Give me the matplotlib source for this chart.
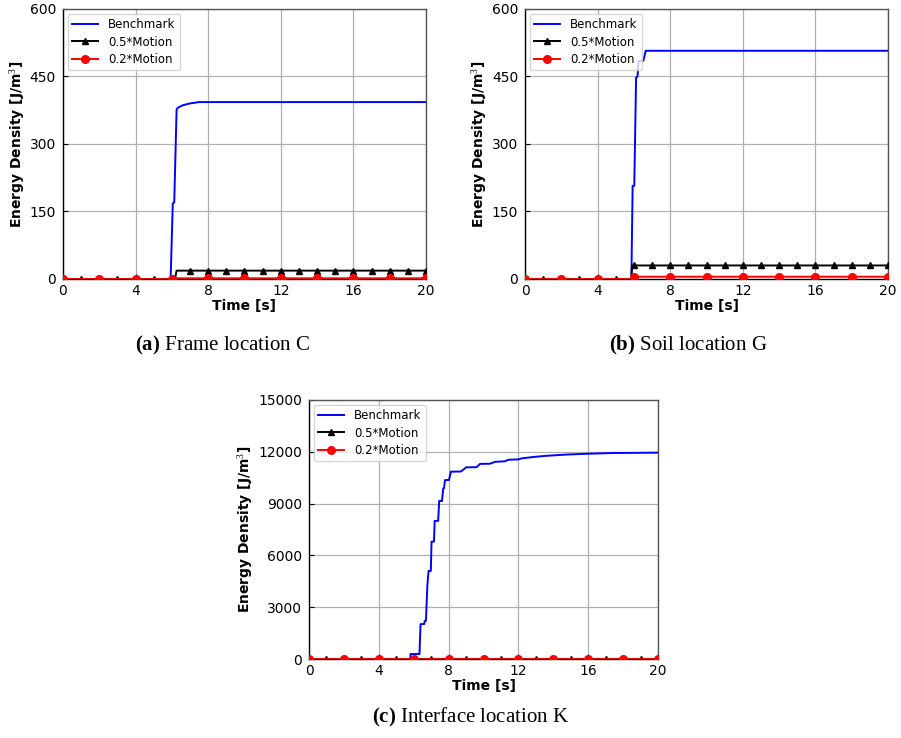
import numpy as np
import matplotlib
matplotlib.use("Agg")
import matplotlib.pyplot as plt

plt.rcParams['mathtext.fontset'] = 'custom'
plt.rcParams['mathtext.rm'] = 'Liberation Serif'
plt.rcParams['mathtext.bf'] = 'Liberation Serif:bold'

# ---- (a) Frame location C ----
t_a_bench = [0, 5.93, 6.05, 6.13, 6.26, 6.35, 6.6, 7.0, 7.5, 20]
e_a_bench = [0, 0, 168, 170, 377, 381, 386, 390, 393, 393]
t_a_half = [0, 1, 2, 3, 4, 5, 6, 6.17, 6.26, 7, 8, 9, 10, 11, 12, 13, 14, 15, 16, 17, 18, 19, 20]
e_a_half = [0, 0, 0, 0, 0, 0, 0, 0, 18.5, 18.5, 18.5, 18.5, 18.5, 18.5, 18.5, 18.5,
            18.5, 18.5, 18.5, 18.5, 18.5, 18.5, 18.5]
t_a_fifth = [0, 2, 4, 6, 6.2, 8, 10, 12, 14, 16, 18, 20]
e_a_fifth = [0, 0, 0, 0, 1.5, 1.5, 1.5, 1.5, 1.5, 1.5, 1.5, 1.5]

# ---- (b) Soil location G ----
t_b_bench = [0, 5.86, 5.93, 6.02, 6.12, 6.2, 6.25, 6.52, 6.65, 20]
e_b_bench = [0, 0, 207, 207, 447, 450, 484, 485, 507, 507]
t_b_half = [0, 1, 2, 3, 4, 5, 5.86, 5.9, 6, 7, 8, 9, 10, 11, 12, 13, 14, 15, 16, 17, 18, 19, 20]
e_b_half = [0, 0, 0, 0, 0, 0, 0, 30, 30, 30, 30, 30, 30, 30, 30, 30, 30, 30, 30, 30, 30, 30, 30]
t_b_fifth = [0, 2, 4, 5.86, 5.9, 6, 8, 10, 12, 14, 16, 18, 20]
e_b_fifth = [0, 0, 0, 0, 5, 5, 5, 5, 5, 5, 5, 5, 5]

# ---- (c) Interface location K ----
t_c_bench = [0, 5.80, 5.82, 6.33, 6.39, 6.60, 6.63, 6.70, 6.78, 6.85, 6.98, 7.02, 7.16,
             7.20, 7.40, 7.46, 7.62, 7.69, 7.74, 7.79, 8.02, 8.13, 8.71, 9.0, 9.6, 9.8,
             10.37, 10.66, 11.23, 11.42, 12.0, 12.19, 12.86, 13.62, 14.77, 16.0, 17.44, 20]
e_c_bench = [0, 0, 290, 290, 2020, 2030, 2200, 2215, 4240, 5100, 5100, 6800, 6800,
             8000, 8000, 9150, 9150, 9880, 9900, 10360, 10370, 10850, 10860, 11100, 11110,
             11300, 11310, 11420, 11450, 11540, 11560, 11620, 11700, 11770, 11840, 11890,
             11930, 11950]
t_c_half = list(range(0, 21))
e_c_half = [0] * 21
t_c_fifth = list(range(0, 21, 2))
e_c_fifth = [0] * 11

panels = [
    dict(rect=[0.0699, 0.622, 0.4029, 0.3659], ymax=600, ystep=150,
         bench=(t_a_bench, e_a_bench), half=(t_a_half, e_a_half), fifth=(t_a_fifth, e_a_fifth),
         cap_xy=(0.2475, 0.532), caption=r"$\mathbf{(a)}$ Frame location C"),
    dict(rect=[0.5827, 0.622, 0.4029, 0.3659], ymax=600, ystep=150,
         bench=(t_b_bench, e_b_bench), half=(t_b_half, e_b_half), fifth=(t_b_fifth, e_b_fifth),
         cap_xy=(0.7636, 0.532), caption=r"$\mathbf{(b)}$ Soil location G"),
    dict(rect=[0.343, 0.107, 0.3873, 0.351], ymax=15000, ystep=3000,
         bench=(t_c_bench, e_c_bench), half=(t_c_half, e_c_half), fifth=(t_c_fifth, e_c_fifth),
         cap_xy=(0.5228, 0.028), caption=r"$\mathbf{(c)}$ Interface location K"),
]


def marker_idx(ts, step):
    return [i for i, t in enumerate(ts) if float(t).is_integer() and int(t) % step == 0]


fig = plt.figure(figsize=(9.01, 7.38), dpi=100)

for p in panels:
    ax = fig.add_axes(p['rect'])
    tb, eb = p['bench']
    th, eh = p['half']
    tf, ef = p['fifth']
    ax.plot(tb, eb, color='blue', lw=1.4, label='Benchmark', zorder=3)
    ax.plot(th, eh, color='black', lw=1.4, marker='^', markersize=5,
            markevery=marker_idx(th, 1), label='0.5*Motion', zorder=3)
    ax.plot(tf, ef, color='red', lw=1.4, marker='o', markersize=5.5,
            markevery=marker_idx(tf, 2), label='0.2*Motion', zorder=3)

    ax.set_xlim(0, 20)
    ax.set_ylim(0, p['ymax'])
    ax.set_xticks(np.arange(0, 21, 4))
    ax.set_yticks(np.arange(0, p['ymax'] + 1, p['ystep']))
    ax.tick_params(direction='in', labelsize=10)
    ax.tick_params(axis='y', pad=5)
    ax.tick_params(axis='x', pad=3.5)
    ax.grid(True, color='#b0b0b0', lw=0.9)
    ax.set_axisbelow(True)
    for s in ax.spines.values():
        s.set_linewidth(1.0)
    ax.spines['top'].set_color('#555555')
    ax.spines['right'].set_color('#555555')

    ax.set_xlabel('Time [s]', fontsize=10, fontweight='bold', labelpad=1)
    ax.set_ylabel(r'Energy Density [J/m$^3$]', fontsize=10, fontweight='bold', labelpad=2)
    ax.legend(loc='upper left', fontsize=8.5, borderaxespad=0.4,
              handlelength=2.2, labelspacing=0.35, borderpad=0.4)

    fig.text(p['cap_xy'][0], p['cap_xy'][1], p['caption'], ha='center', va='center',
             fontsize=15, family='Liberation Serif')

fig.savefig('out.png', dpi=100)
